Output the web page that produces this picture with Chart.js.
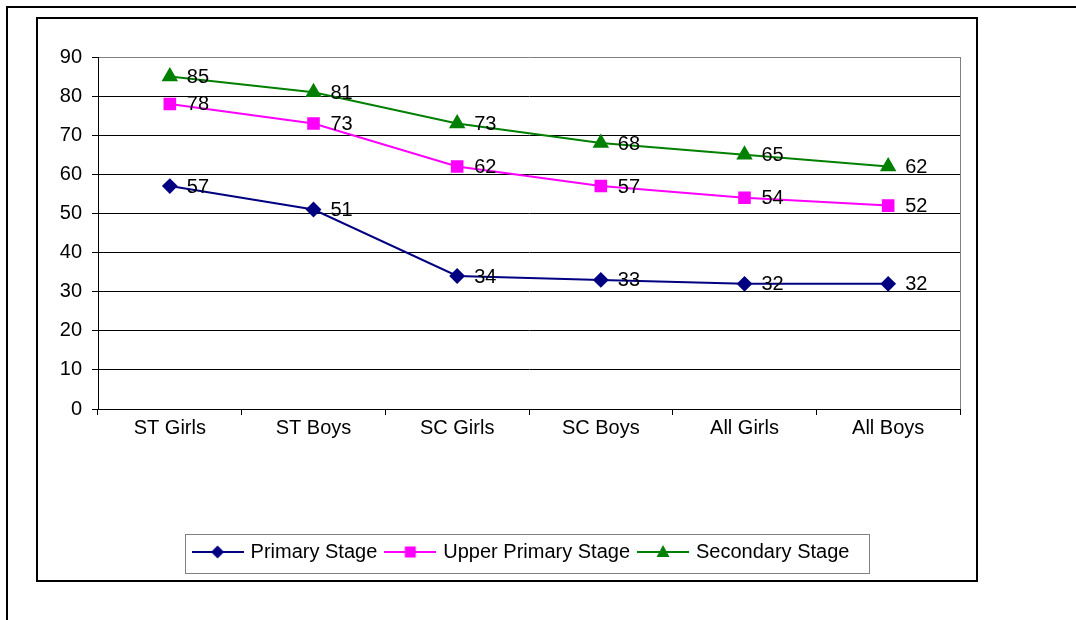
<!DOCTYPE html>
<html>
<head>
<meta charset="utf-8">
<script src="https://cdn.jsdelivr.net/npm/chart.js@4/dist/chart.umd.min.js"></script>
<style>
  html, body { margin: 0; padding: 0; background: #fff; }
  canvas { display: block; }
</style>
</head>
<body>
<canvas id="c" width="1076" height="620" style="width:1076px;height:620px"></canvas>
<script>
const categories = ['ST Girls', 'ST Boys', 'SC Girls', 'SC Boys', 'All Girls', 'All Boys'];
const primaryStage = [57, 51, 34, 33, 32, 32];
const upperPrimaryStage = [78, 73, 62, 57, 54, 52];
const secondaryStage = [85, 81, 73, 68, 65, 62];
const yTicks = [0, 10, 20, 30, 40, 50, 60, 70, 80, 90];

const FONT = "'Liberation Sans', Arial, sans-serif";

// small line-and-marker swatches for the legend
function makeSwatch(color, shape) {
  const cv = document.createElement('canvas');
  cv.width = 52; cv.height = 20;
  const g = cv.getContext('2d');
  g.strokeStyle = color; g.fillStyle = color; g.lineWidth = 2;
  g.beginPath(); g.moveTo(0, 10); g.lineTo(52, 10); g.stroke();
  g.beginPath();
  if (shape === 'diamond') {
    g.moveTo(26, 3.5); g.lineTo(32.5, 10); g.lineTo(26, 16.5); g.lineTo(19.5, 10);
  } else if (shape === 'square') {
    g.rect(20.5, 4.5, 11, 11);
  } else {
    g.moveTo(26, 3); g.lineTo(32.5, 15); g.lineTo(19.5, 15);
  }
  g.closePath(); g.fill();
  return cv;
}
const swatches = [
  makeSwatch('#000080', 'diamond'),
  makeSwatch('#FF00FF', 'square'),
  makeSwatch('#008000', 'triangle')
];

const framePlugin = {
  id: 'frame',
  beforeDraw(chart) {
    const ctx = chart.ctx;
    ctx.save();
    ctx.fillStyle = '#fff';
    ctx.fillRect(0, 0, chart.width, chart.height);
    ctx.strokeStyle = '#000';
    ctx.lineWidth = 2;
    ctx.beginPath();
    ctx.moveTo(7, 620); ctx.lineTo(7, 7); ctx.lineTo(1076, 7);
    ctx.stroke();
    ctx.strokeRect(37, 18, 940, 563);
    ctx.restore();
  },
  afterDraw(chart) {
    const ctx = chart.ctx;
    const a = chart.chartArea;
    ctx.save();
    ctx.strokeStyle = '#808080';
    ctx.lineWidth = 1;
    ctx.beginPath();
    ctx.moveTo(Math.round(a.right) + 0.5, a.bottom);
    ctx.lineTo(Math.round(a.right) + 0.5, a.top);
    ctx.stroke();
    // box around the legend
    const lg = chart.legend;
    if (lg && lg.legendHitBoxes && lg.legendHitBoxes.length) {
      const hb = lg.legendHitBoxes;
      const first = hb[0], last = hb[hb.length - 1];
      const x0 = Math.round(first.left) - 9.5;
      const x1 = Math.round(last.left + last.width) + 20.5;
      const y0 = Math.round(first.top) - 7.5;
      const y1 = Math.round(first.top) + 31.5;
      ctx.strokeRect(x0, y0, x1 - x0, y1 - y0);
    }
    ctx.restore();
  }
};

const valueLabelPlugin = {
  id: 'valueLabels',
  afterDatasetsDraw(chart) {
    const ctx = chart.ctx;
    ctx.save();
    ctx.font = '20px ' + FONT;
    ctx.fillStyle = '#000';
    ctx.textAlign = 'left';
    ctx.textBaseline = 'middle';
    chart.data.datasets.forEach((ds, i) => {
      chart.getDatasetMeta(i).data.forEach((pt, j) => {
        ctx.fillText(String(ds.data[j]), pt.x + 17, pt.y + 1);
      });
    });
    ctx.restore();
  }
};

new Chart(document.getElementById('c'), {
  type: 'line',
  data: {
    labels: categories,
    datasets: [
      {
        label: 'Primary Stage', data: primaryStage,
        borderColor: '#000080', backgroundColor: '#000080',
        borderWidth: 2, pointStyle: 'rectRot', pointRadius: 6.5, tension: 0
      },
      {
        label: 'Upper Primary Stage', data: upperPrimaryStage,
        borderColor: '#FF00FF', backgroundColor: '#FF00FF',
        borderWidth: 2, pointStyle: 'rect', pointRadius: 7.5, tension: 0
      },
      {
        label: 'Secondary Stage', data: secondaryStage,
        borderColor: '#008000', backgroundColor: '#008000',
        borderWidth: 2, pointStyle: 'triangle', pointRadius: 7.5, tension: 0
      }
    ]
  },
  options: {
    responsive: false,
    animation: false,
    devicePixelRatio: 1,
    layout: { padding: { left: 40, right: 72, top: 57, bottom: 48 } },
    plugins: {
      tooltip: { enabled: false },
      legend: {
        position: 'bottom',
        labels: {
          font: { family: FONT, size: 20 },
          color: '#000',
          usePointStyle: true,
          pointStyleWidth: 46,
          boxHeight: 20,
          padding: 10,
          generateLabels(chart) {
            const items = Chart.defaults.plugins.legend.labels.generateLabels(chart);
            items.forEach((it, i) => { it.pointStyle = swatches[i]; });
            return items;
          }
        }
      }
    },
    scales: {
      x: {
        offset: true,
        grid: { display: true, drawOnChartArea: false, drawTicks: true, tickLength: 6, color: '#000', offset: true },
        border: { display: true, color: '#000', width: 1 },
        ticks: { font: { family: FONT, size: 20 }, color: '#000', padding: 1, maxRotation: 0 },
        afterFit(scale) { scale.height = 123; }
      },
      y: {
        min: 0, max: 90,
        afterBuildTicks(scale) { scale.ticks = yTicks.map(v => ({ value: v })); },
        grid: {
          color: ctx => (ctx.tick && ctx.tick.value === 90 ? '#808080' : '#000'),
          tickLength: 6, tickColor: '#000', drawTicks: true
        },
        border: { display: true, color: '#000', width: 1 },
        ticks: { font: { family: FONT, size: 20 }, color: '#000', padding: 10 },
        afterFit(scale) { scale.width = 58; }
      },
      // empty spacer on the right of the plot
      yGap: {
        position: 'right',
        display: true,
        grid: { display: false },
        border: { display: false },
        ticks: { display: false },
        afterFit(scale) { scale.width = 44; }
      }
    }
  },
  plugins: [framePlugin, valueLabelPlugin]
});
</script>
</body>
</html>
